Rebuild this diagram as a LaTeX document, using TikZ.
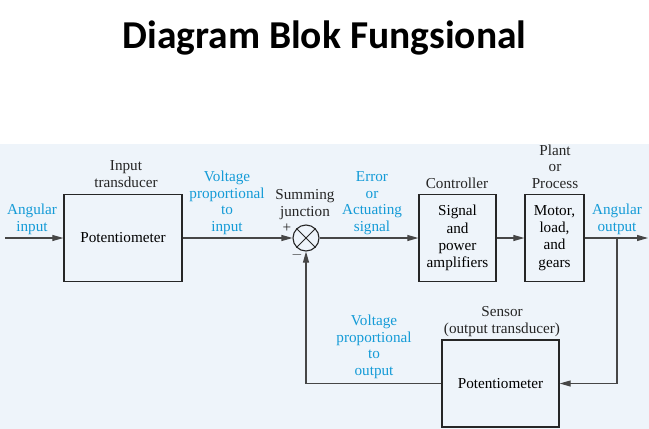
\documentclass[tikz,border=0pt]{standalone}
\usepackage{fontspec}
\setmainfont{Liberation Serif}
\newfontfamily\titlefont{Carlito}
\usetikzlibrary{arrows.meta}
\definecolor{sigblue}{RGB}{20,155,215}
\definecolor{panel}{RGB}{238,244,250}
\definecolor{wire}{RGB}{70,70,70}

\begin{document}
\begin{tikzpicture}[x=1pt,y=-1pt,line join=miter,
  font=\fontsize{15.2}{16.4}\selectfont,
  blk/.style={draw=black!85,line width=1.3pt,align=center,inner sep=0pt},
  sig/.style={draw=wire,line width=1.1pt,-{Triangle[length=11pt,width=6pt]}},
  lbl/.style={anchor=base,align=center,inner sep=0pt,text=black!85},
  qty/.style={lbl,text=sigblue}]
  \useasboundingbox (0,0) rectangle (649,429);
  % panel and title
  \fill[panel] (0,144) rectangle (649,429);
  \node[anchor=base,inner sep=0pt,font=\titlefont\bfseries\fontsize{39.5}{42}\selectfont] (title) at (324.5,48) {Diagram Blok Fungsional};

  % blocks
  \node[blk,minimum width=118pt,minimum height=87pt] (inpot) at (123,238) {Potentiometer};
  \node[draw=black!85,line width=1.1pt,circle,minimum size=26pt,inner sep=0pt] (sum) at (306,238) {};
  \draw[black!85,line width=0.9pt] (sum.north west) -- (sum.south east) (sum.north east) -- (sum.south west);
  \node[blk,minimum width=77pt,minimum height=87pt,font=\fontsize{15.2}{17.2}\selectfont] (ctrl) at (457.5,238) {Signal\\and\\power\\amplifiers};
  \node[blk,minimum width=59pt,minimum height=87pt,font=\fontsize{15.2}{17.2}\selectfont] (plant) at (554.5,238) {Motor,\\load,\\and\\gears};
  \node[blk,minimum width=117pt,minimum height=87pt] (senspot) at (500.5,383.5) {Potentiometer};

  % connectors
  \coordinate (angin) at (5,238);
  \coordinate (angout) at (648,238);
  \coordinate (tap) at (617,238);
  \draw[sig] (angin) -- (inpot.west);
  \draw[sig] (inpot.east) -- (sum.west);
  \draw[sig] (sum.east) -- (ctrl.west);
  \draw[sig] (ctrl.east) -- (plant.west);
  \draw[sig] (plant.east) -- (angout);
  \draw[sig] (tap) |- (senspot.east);
  \draw[sig] (senspot.west) -| (sum.south);

  % labels
  \node[qty] (inlbl) at (32,231) {Angular\\input};
  \node[lbl] (intrans) at (126,187) {Input\\transducer};
  \node[qty] (vin) at (227,231) {Voltage\\proportional\\to\\input};
  \node[lbl] (sumlbl) at (305,216) {Summing\\junction};
  \node[lbl] (plus) at (287,232) {+};
  \node[lbl] (minus) at (297,258) {$-$};
  \node[qty] (err) at (372,231) {Error\\or\\Actuating\\signal};
  \node[lbl] (ctrllbl) at (457,188) {Controller};
  \node[lbl] (plantlbl) at (555,188) {Plant\\or\\Process};
  \node[qty] (outlbl) at (617,231) {Angular\\output};
  \node[lbl] (senslbl) at (502,333) {Sensor\\(output transducer)};
  \node[qty] (vout) at (374,375) {Voltage\\proportional\\to\\output};
\end{tikzpicture}
\end{document}
